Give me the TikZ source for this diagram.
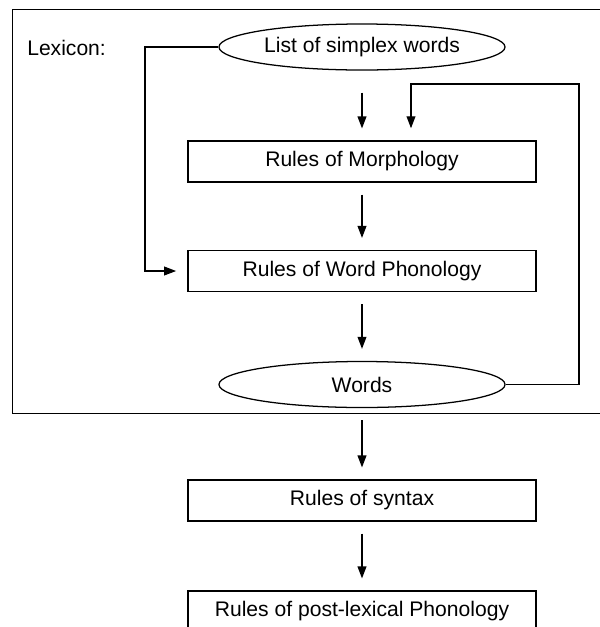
\documentclass[tikz,border=0pt]{standalone}
\usepackage{fontspec}
\setmainfont{Liberation Sans}
\usetikzlibrary{shapes.geometric,arrows.meta,calc}

\tikzset{
	stage/.style={draw, line width=0.9pt, minimum width=8.7cm, minimum height=1.02cm, inner sep=0pt},
	wordlist/.style={draw, ellipse, line width=0.9pt, minimum width=7.15cm, minimum height=1.15cm, inner sep=0pt},
	flow/.style={line width=0.9pt, -{Triangle[length=3mm,width=2.2mm]}},
	gap/.style={shorten <=0.3cm, shorten >=0.3cm}
}

\begin{document}
\begin{tikzpicture}[x=0.025cm, y=-0.025cm, font=\fontsize{15}{18}\selectfont]
		\useasboundingbox (0,0) rectangle (600,627);
		
		% Lexicon frame
		\draw[line width=1.1pt] (620,9.5) -- (12.5,9.5) -- (12.5,413.5) -- (620,413.5);
		\node[anchor=west, inner sep=0pt] (lexicon) at (27,48) {Lexicon:};
		
		% Lexical part
		\node[wordlist] (simplex) at (362,47) {List of simplex words};
		\node[stage] (morph) at (362,161.5) {Rules of Morphology};
		\node[stage] (wordphon) at (362,271) {Rules of Word Phonology};
		\node[wordlist] (words) at (362,384.5) {Words};
		
		% Post-lexical part
		\node[stage] (syntax) at (362,500.5) {Rules of syntax};
		\node[stage] (postlex) at (362,611.5) {Rules of post-lexical Phonology};
		
		% Arrows
		\draw[flow, shorten <=0.55cm, shorten >=0.3cm] (simplex) -- (morph);
		\draw[flow, gap] (morph) -- (wordphon);
		\draw[flow, gap] (wordphon) -- (words);
		\draw[flow, gap] (words) -- (syntax);
		\draw[flow, gap] (syntax) -- (postlex);
		
		% Bypass to word phonology
		\coordinate (bypass) at (145,47);
		\draw[flow, shorten >=0.28cm] (simplex.west) -- (bypass) |- (wordphon.west);
		
		% Loop back to morphology
		\coordinate (loopR) at (579,84);
		\coordinate (loopIn) at (411,141.5);
		\draw[flow, shorten >=0.33cm] (words.east) -| (loopR) -| (loopIn);
		
	\end{tikzpicture}
\end{document}
